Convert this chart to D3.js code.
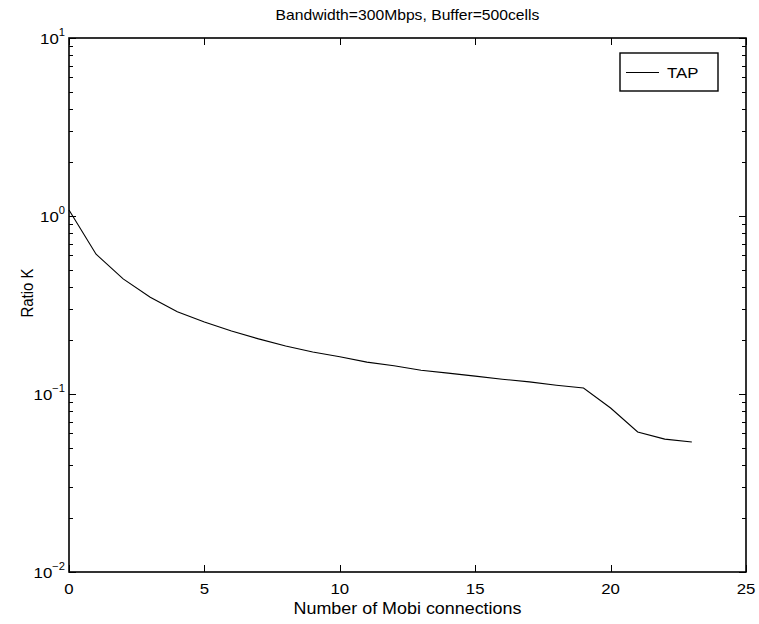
<!DOCTYPE html>
<html><head><meta charset="utf-8">
<script src="https://cdn.jsdelivr.net/npm/d3@7"></script>
<style>body{margin:0;background:#fff}svg{display:block}text{font-family:"Liberation Sans",Arial,sans-serif;fill:#000}</style>
</head><body><svg id="c" width="759" height="624"></svg>
<script>
const xValues = [0,1,2,3,4,5,6,7,8,9,10,11,12,13,14,15,16,17,18,19,20,21,22,23];
const tapValues = [1.08,0.61,0.443,0.35,0.29,0.254,0.226,0.204,0.186,0.172,0.162,0.151,0.144,0.136,0.131,0.126,0.121,0.117,0.112,0.108,0.0834,0.0612,0.0558,0.0537];
const xTicks = [0,5,10,15,20,25];
const yExponents = [-2,-1,0,1];
const seriesName = "TAP";
const titleText = "Bandwidth=300Mbps, Buffer=500cells";
const xLabel = "Number of Mobi connections";
const yLabel = "Ratio K";

const SX = 1.12; // horizontal glyph stretch seen in the reference
const svg = d3.select("#c");
const L=69,R=746,T=38,B=572;
const x = d3.scaleLinear().domain([0,25]).range([L,R]);
const y = d3.scaleLog().domain([0.01,10]).range([B,T]);
const g = svg.append("g");

function label(px,py,size,anchor,extra){
  return g.append("text").attr("transform",`translate(${px},${py}) scale(${SX},1)${extra||""}`)
    .attr("text-anchor",anchor).attr("font-size",size);
}

// minor ticks
const minors=[];
for(let e=-2;e<1;e++) for(let m=2;m<=9;m++) minors.push(m*Math.pow(10,e));
const tk = g.append("g").attr("stroke","#000").attr("stroke-width",1);
minors.forEach(v=>{const yy=Math.round(y(v))+0.5;
  tk.append("line").attr("x1",L).attr("x2",L+4).attr("y1",yy).attr("y2",yy);
  tk.append("line").attr("x1",R-4).attr("x2",R).attr("y1",yy).attr("y2",yy);});
yExponents.forEach(e=>{const yy=Math.round(y(Math.pow(10,e)))+0.5;
  tk.append("line").attr("x1",L).attr("x2",L+7).attr("y1",yy).attr("y2",yy);
  tk.append("line").attr("x1",R-7).attr("x2",R).attr("y1",yy).attr("y2",yy);});
xTicks.forEach(t=>{const xx=Math.round(x(t))+0.5;
  tk.append("line").attr("x1",xx).attr("x2",xx).attr("y1",B).attr("y2",B-7);
  tk.append("line").attr("x1",xx).attr("x2",xx).attr("y1",T).attr("y2",T+7);});

// frame
g.append("rect").attr("x",L).attr("y",T).attr("width",R-L).attr("height",B-T)
 .attr("fill","none").attr("stroke","#000").attr("stroke-width",1.6);

// x tick labels
xTicks.forEach(t=>{label(x(t),B+22,15,"middle").text(t);});
// y tick labels
yExponents.forEach(e=>{const t=label(L-4,y(Math.pow(10,e))+6,15,"end");
  t.append("tspan").text("10");
  t.append("tspan").attr("dy",-8).attr("font-size",10).text(e<0?"\u2212"+(-e):e);
});

// line
const line = d3.line().x((d,i)=>x(xValues[i])).y(d=>y(d));
g.append("path").datum(tapValues).attr("d",line).attr("fill","none").attr("stroke","#000").attr("stroke-width",1.1);

// title & labels
label((L+R)/2,20,14,"middle").text(titleText);
label((L+R)/2,614,16,"middle").text(xLabel);
label(33,293,15,"middle"," rotate(-90)").text(yLabel);

// legend
const lg=g.append("g");
lg.append("rect").attr("x",620).attr("y",53).attr("width",98).attr("height",38).attr("fill","#fff").attr("stroke","#000").attr("stroke-width",1.4);
lg.append("line").attr("x1",626).attr("x2",659).attr("y1",72.5).attr("y2",72.5).attr("stroke","#000");
label(667,78,15,"start").text(seriesName);
</script></body></html>
